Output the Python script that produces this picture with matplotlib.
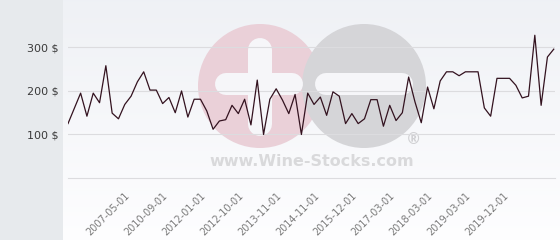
import numpy as np
import matplotlib
matplotlib.use("Agg")
import matplotlib.pyplot as plt
from matplotlib.patches import Circle

# price per point (categorical x axis)
prices = [125, 160, 195, 142, 195, 173, 258, 149, 136, 169, 188, 221, 244,
          202, 202, 171, 185, 150, 200, 140, 181, 181, 154, 112, 131, 134,
          167, 148, 181, 122, 225, 100, 181, 205, 179, 148, 192, 100, 195,
          169, 186, 144, 198, 188, 125, 148, 125, 136, 180, 180, 119, 167,
          132, 150, 232, 175, 127, 209, 159, 223, 244, 244, 235, 244, 244,
          244, 161, 142, 229, 229, 229, 213, 184, 188, 328, 167, 278, 296]

date_labels = ["2007-05-01", "2010-09-01", "2012-01-01", "2012-10-01",
               "2013-11-01", "2014-11-01", "2015-12-01", "2017-03-01",
               "2018-03-01", "2019-03-01", "2019-12-01"]
date_idx = [9, 15, 21, 27, 33, 39, 45, 51, 57, 63, 69]

y_ticks = [100, 200, 300]
y_labels = ["100 $", "200 $", "300 $"]

W, H = 560, 240
fig = plt.figure(figsize=(W / 100, H / 100), dpi=100)
fig.patch.set_facecolor("#e7eaed")

# background panel + watermark, in pixel coords
bg = fig.add_axes([63 / W, 0, (W - 63) / W, 1])
bg.set_xlim(63, W)
bg.set_ylim(H, 0)
bg.axis("off")
grad = np.linspace(0, 1, 256).reshape(-1, 1)
top = np.array([0.937, 0.945, 0.961])
bot = np.array([0.995, 0.995, 1.0])
img = top + (bot - top) * grad[..., None]
bg.imshow(img, extent=[63, W, H, 0], aspect="auto", zorder=0)

bg.add_patch(Circle((260, 86), 62, color="#ead0d8", zorder=1, lw=0))
bg.add_patch(Circle((364, 86), 62, color="#d5d5d8", zorder=2, lw=0))
wm = "#f6f6f9"
bg.plot([226, 292], [84, 84], color=wm, lw=22 * 0.72, solid_capstyle="round", zorder=3)
bg.plot([260, 260], [50, 124], color=wm, lw=24 * 0.72, solid_capstyle="round", zorder=3)
bg.plot([326, 402], [84, 84], color=wm, lw=22 * 0.72, solid_capstyle="round", zorder=3)
bg.text(312, 162, "www.Wine-Stocks.com", ha="center", va="center",
        fontsize=11.5, fontweight="bold", color="#d9d9db", zorder=3)
bg.text(413, 139, "\u00ae", ha="center", va="center", fontsize=11,
        fontweight="bold", color="#d0d0d3", zorder=3)

ax = fig.add_axes([68 / W, (H - 178) / H, 487 / W, 178 / H])
ax.patch.set_alpha(0)
x = np.arange(len(prices))
ax.plot(x, prices, color="#33121f", lw=0.9, zorder=3)
ax.set_xlim(0, 77.2)
ax.set_ylim(0, 409)

ax.set_yticks(y_ticks)
ax.set_yticklabels(y_labels, fontsize=8, color="#3a3a3a")
ax.set_xticks(date_idx)
ax.set_xticklabels(date_labels, rotation=45, ha="right", rotation_mode="anchor",
                   fontsize=7, color="#7a7a7a")
ax.tick_params(axis="y", length=0, pad=6.5)
ax.tick_params(axis="x", length=0, pad=9)
ax.grid(axis="y", color="#dcdcdf", lw=0.8)
ax.axhline(0, color="#dcdcdf", lw=0.8, clip_on=False)
for s in ax.spines.values():
    s.set_visible(False)

fig.savefig("out.png", dpi=100)
